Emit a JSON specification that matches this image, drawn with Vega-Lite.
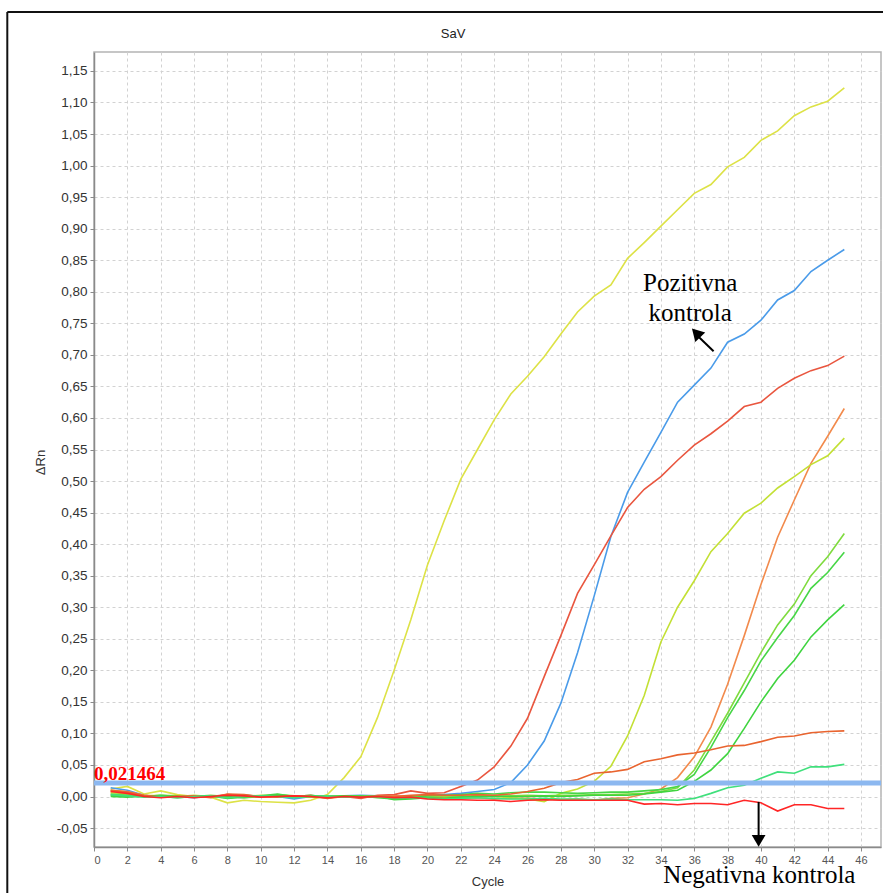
{
"$schema": "https://vega.github.io/schema/vega-lite/v6.json",
"width": 787, "height": 795,
"autosize": {"type": "none"},
"padding": {"left": 94, "top": 52, "right": 2, "bottom": 46},
"background": "white",
"config": {"view": {"stroke": "#b4b4b4", "strokeWidth": 1.5}, "axis": {"labelOverlap": false}},
"resolve": {"axis": {"x": "independent", "y": "independent"}},
"datasets": {"curves": [
{"s":"A","c":1,"v":0.012},{"s":"A","c":2,"v":0.016},{"s":"A","c":3,"v":0.004},{"s":"A","c":4,"v":0.009},{"s":"A","c":5,"v":0.003},{"s":"A","c":6,"v":0.0},{"s":"A","c":7,"v":-0.001},{"s":"A","c":8,"v":-0.01},{"s":"A","c":9,"v":-0.006},{"s":"A","c":10,"v":-0.008},{"s":"A","c":11,"v":-0.009},{"s":"A","c":12,"v":-0.01},{"s":"A","c":13,"v":-0.006},{"s":"A","c":14,"v":0.003},{"s":"A","c":15,"v":0.03},{"s":"A","c":16,"v":0.063},{"s":"A","c":17,"v":0.125},{"s":"A","c":18,"v":0.2},{"s":"A","c":19,"v":0.28},{"s":"A","c":20,"v":0.367},{"s":"A","c":21,"v":0.437},{"s":"A","c":22,"v":0.503},{"s":"A","c":23,"v":0.55},{"s":"A","c":24,"v":0.597},{"s":"A","c":25,"v":0.638},{"s":"A","c":26,"v":0.666},{"s":"A","c":27,"v":0.697},{"s":"A","c":28,"v":0.733},{"s":"A","c":29,"v":0.768},{"s":"A","c":30,"v":0.793},{"s":"A","c":31,"v":0.811},{"s":"A","c":32,"v":0.853},{"s":"A","c":33,"v":0.878},{"s":"A","c":34,"v":0.904},{"s":"A","c":35,"v":0.93},{"s":"A","c":36,"v":0.956},{"s":"A","c":37,"v":0.97},{"s":"A","c":38,"v":0.998},{"s":"A","c":39,"v":1.013},{"s":"A","c":40,"v":1.04},{"s":"A","c":41,"v":1.055},{"s":"A","c":42,"v":1.079},{"s":"A","c":43,"v":1.093},{"s":"A","c":44,"v":1.102},{"s":"A","c":45,"v":1.123},
{"s":"B","c":1,"v":0.014},{"s":"B","c":2,"v":0.01},{"s":"B","c":3,"v":0.002},{"s":"B","c":4,"v":-0.001},{"s":"B","c":5,"v":0.0},{"s":"B","c":6,"v":-0.002},{"s":"B","c":7,"v":0.001},{"s":"B","c":8,"v":0.0},{"s":"B","c":9,"v":-0.002},{"s":"B","c":10,"v":0.001},{"s":"B","c":11,"v":0.0},{"s":"B","c":12,"v":-0.004},{"s":"B","c":13,"v":0.0},{"s":"B","c":14,"v":-0.002},{"s":"B","c":15,"v":0.001},{"s":"B","c":16,"v":0.002},{"s":"B","c":17,"v":0.001},{"s":"B","c":18,"v":0.0},{"s":"B","c":19,"v":-0.001},{"s":"B","c":20,"v":0.002},{"s":"B","c":21,"v":0.003},{"s":"B","c":22,"v":0.005},{"s":"B","c":23,"v":0.008},{"s":"B","c":24,"v":0.011},{"s":"B","c":25,"v":0.022},{"s":"B","c":26,"v":0.05},{"s":"B","c":27,"v":0.088},{"s":"B","c":28,"v":0.148},{"s":"B","c":29,"v":0.228},{"s":"B","c":30,"v":0.318},{"s":"B","c":31,"v":0.412},{"s":"B","c":32,"v":0.482},{"s":"B","c":33,"v":0.53},{"s":"B","c":34,"v":0.577},{"s":"B","c":35,"v":0.625},{"s":"B","c":36,"v":0.652},{"s":"B","c":37,"v":0.679},{"s":"B","c":38,"v":0.72},{"s":"B","c":39,"v":0.733},{"s":"B","c":40,"v":0.755},{"s":"B","c":41,"v":0.787},{"s":"B","c":42,"v":0.802},{"s":"B","c":43,"v":0.832},{"s":"B","c":44,"v":0.85},{"s":"B","c":45,"v":0.867},
{"s":"C","c":1,"v":0.008},{"s":"C","c":2,"v":0.006},{"s":"C","c":3,"v":0.001},{"s":"C","c":4,"v":0.0},{"s":"C","c":5,"v":-0.001},{"s":"C","c":6,"v":0.001},{"s":"C","c":7,"v":0.0},{"s":"C","c":8,"v":0.003},{"s":"C","c":9,"v":0.002},{"s":"C","c":10,"v":0.0},{"s":"C","c":11,"v":0.001},{"s":"C","c":12,"v":0.0},{"s":"C","c":13,"v":0.002},{"s":"C","c":14,"v":-0.002},{"s":"C","c":15,"v":0.0},{"s":"C","c":16,"v":-0.003},{"s":"C","c":17,"v":0.002},{"s":"C","c":18,"v":0.003},{"s":"C","c":19,"v":0.009},{"s":"C","c":20,"v":0.005},{"s":"C","c":21,"v":0.006},{"s":"C","c":22,"v":0.016},{"s":"C","c":23,"v":0.026},{"s":"C","c":24,"v":0.047},{"s":"C","c":25,"v":0.08},{"s":"C","c":26,"v":0.124},{"s":"C","c":27,"v":0.19},{"s":"C","c":28,"v":0.255},{"s":"C","c":29,"v":0.322},{"s":"C","c":30,"v":0.367},{"s":"C","c":31,"v":0.413},{"s":"C","c":32,"v":0.458},{"s":"C","c":33,"v":0.487},{"s":"C","c":34,"v":0.507},{"s":"C","c":35,"v":0.533},{"s":"C","c":36,"v":0.557},{"s":"C","c":37,"v":0.575},{"s":"C","c":38,"v":0.595},{"s":"C","c":39,"v":0.618},{"s":"C","c":40,"v":0.625},{"s":"C","c":41,"v":0.647},{"s":"C","c":42,"v":0.663},{"s":"C","c":43,"v":0.675},{"s":"C","c":44,"v":0.683},{"s":"C","c":45,"v":0.698},
{"s":"D","c":1,"v":0.01},{"s":"D","c":2,"v":0.008},{"s":"D","c":3,"v":0.002},{"s":"D","c":4,"v":0.0},{"s":"D","c":5,"v":0.001},{"s":"D","c":6,"v":-0.001},{"s":"D","c":7,"v":0.0},{"s":"D","c":8,"v":0.002},{"s":"D","c":9,"v":0.001},{"s":"D","c":10,"v":-0.001},{"s":"D","c":11,"v":0.0},{"s":"D","c":12,"v":0.001},{"s":"D","c":13,"v":-0.001},{"s":"D","c":14,"v":0.0},{"s":"D","c":15,"v":0.001},{"s":"D","c":16,"v":-0.001},{"s":"D","c":17,"v":0.0},{"s":"D","c":18,"v":0.001},{"s":"D","c":19,"v":0.0},{"s":"D","c":20,"v":-0.002},{"s":"D","c":21,"v":-0.002},{"s":"D","c":22,"v":-0.003},{"s":"D","c":23,"v":-0.002},{"s":"D","c":24,"v":-0.004},{"s":"D","c":25,"v":-0.003},{"s":"D","c":26,"v":-0.003},{"s":"D","c":27,"v":-0.004},{"s":"D","c":28,"v":-0.005},{"s":"D","c":29,"v":-0.004},{"s":"D","c":30,"v":-0.006},{"s":"D","c":31,"v":-0.003},{"s":"D","c":32,"v":-0.002},{"s":"D","c":33,"v":0.004},{"s":"D","c":34,"v":0.012},{"s":"D","c":35,"v":0.03},{"s":"D","c":36,"v":0.063},{"s":"D","c":37,"v":0.11},{"s":"D","c":38,"v":0.178},{"s":"D","c":39,"v":0.255},{"s":"D","c":40,"v":0.336},{"s":"D","c":41,"v":0.411},{"s":"D","c":42,"v":0.47},{"s":"D","c":43,"v":0.528},{"s":"D","c":44,"v":0.571},{"s":"D","c":45,"v":0.615},
{"s":"E","c":1,"v":0.006},{"s":"E","c":2,"v":0.005},{"s":"E","c":3,"v":0.002},{"s":"E","c":4,"v":0.001},{"s":"E","c":5,"v":0.0},{"s":"E","c":6,"v":0.002},{"s":"E","c":7,"v":0.0},{"s":"E","c":8,"v":-0.002},{"s":"E","c":9,"v":0.0},{"s":"E","c":10,"v":0.002},{"s":"E","c":11,"v":0.001},{"s":"E","c":12,"v":0.0},{"s":"E","c":13,"v":-0.001},{"s":"E","c":14,"v":0.001},{"s":"E","c":15,"v":0.0},{"s":"E","c":16,"v":0.001},{"s":"E","c":17,"v":0.0},{"s":"E","c":18,"v":-0.001},{"s":"E","c":19,"v":0.0},{"s":"E","c":20,"v":0.001},{"s":"E","c":21,"v":0.0},{"s":"E","c":22,"v":-0.001},{"s":"E","c":23,"v":0.001},{"s":"E","c":24,"v":0.0},{"s":"E","c":25,"v":-0.002},{"s":"E","c":26,"v":-0.004},{"s":"E","c":27,"v":-0.008},{"s":"E","c":28,"v":0.005},{"s":"E","c":29,"v":0.012},{"s":"E","c":30,"v":0.024},{"s":"E","c":31,"v":0.048},{"s":"E","c":32,"v":0.096},{"s":"E","c":33,"v":0.16},{"s":"E","c":34,"v":0.245},{"s":"E","c":35,"v":0.3},{"s":"E","c":36,"v":0.342},{"s":"E","c":37,"v":0.388},{"s":"E","c":38,"v":0.417},{"s":"E","c":39,"v":0.449},{"s":"E","c":40,"v":0.465},{"s":"E","c":41,"v":0.489},{"s":"E","c":42,"v":0.507},{"s":"E","c":43,"v":0.526},{"s":"E","c":44,"v":0.54},{"s":"E","c":45,"v":0.568},
{"s":"F","c":1,"v":0.004},{"s":"F","c":2,"v":0.003},{"s":"F","c":3,"v":0.0},{"s":"F","c":4,"v":0.002},{"s":"F","c":5,"v":0.001},{"s":"F","c":6,"v":0.0},{"s":"F","c":7,"v":0.002},{"s":"F","c":8,"v":0.0},{"s":"F","c":9,"v":-0.002},{"s":"F","c":10,"v":0.0},{"s":"F","c":11,"v":0.003},{"s":"F","c":12,"v":0.001},{"s":"F","c":13,"v":0.0},{"s":"F","c":14,"v":0.001},{"s":"F","c":15,"v":0.0},{"s":"F","c":16,"v":-0.001},{"s":"F","c":17,"v":0.001},{"s":"F","c":18,"v":-0.002},{"s":"F","c":19,"v":0.0},{"s":"F","c":20,"v":0.002},{"s":"F","c":21,"v":0.001},{"s":"F","c":22,"v":0.0},{"s":"F","c":23,"v":0.001},{"s":"F","c":24,"v":0.0},{"s":"F","c":25,"v":0.001},{"s":"F","c":26,"v":0.002},{"s":"F","c":27,"v":0.001},{"s":"F","c":28,"v":0.002},{"s":"F","c":29,"v":0.002},{"s":"F","c":30,"v":0.003},{"s":"F","c":31,"v":0.003},{"s":"F","c":32,"v":0.004},{"s":"F","c":33,"v":0.005},{"s":"F","c":34,"v":0.008},{"s":"F","c":35,"v":0.014},{"s":"F","c":36,"v":0.042},{"s":"F","c":37,"v":0.087},{"s":"F","c":38,"v":0.132},{"s":"F","c":39,"v":0.18},{"s":"F","c":40,"v":0.228},{"s":"F","c":41,"v":0.272},{"s":"F","c":42,"v":0.305},{"s":"F","c":43,"v":0.35},{"s":"F","c":44,"v":0.38},{"s":"F","c":45,"v":0.417},
{"s":"G","c":1,"v":0.002},{"s":"G","c":2,"v":0.001},{"s":"G","c":3,"v":0.0},{"s":"G","c":4,"v":0.002},{"s":"G","c":5,"v":0.0},{"s":"G","c":6,"v":-0.001},{"s":"G","c":7,"v":0.001},{"s":"G","c":8,"v":-0.003},{"s":"G","c":9,"v":-0.001},{"s":"G","c":10,"v":0.001},{"s":"G","c":11,"v":0.004},{"s":"G","c":12,"v":0.0},{"s":"G","c":13,"v":0.002},{"s":"G","c":14,"v":-0.001},{"s":"G","c":15,"v":0.0},{"s":"G","c":16,"v":0.001},{"s":"G","c":17,"v":-0.002},{"s":"G","c":18,"v":-0.004},{"s":"G","c":19,"v":-0.002},{"s":"G","c":20,"v":0.001},{"s":"G","c":21,"v":0.002},{"s":"G","c":22,"v":0.003},{"s":"G","c":23,"v":0.005},{"s":"G","c":24,"v":0.004},{"s":"G","c":25,"v":0.006},{"s":"G","c":26,"v":0.007},{"s":"G","c":27,"v":0.007},{"s":"G","c":28,"v":0.006},{"s":"G","c":29,"v":0.005},{"s":"G","c":30,"v":0.006},{"s":"G","c":31,"v":0.007},{"s":"G","c":32,"v":0.007},{"s":"G","c":33,"v":0.009},{"s":"G","c":34,"v":0.011},{"s":"G","c":35,"v":0.016},{"s":"G","c":36,"v":0.035},{"s":"G","c":37,"v":0.078},{"s":"G","c":38,"v":0.125},{"s":"G","c":39,"v":0.168},{"s":"G","c":40,"v":0.215},{"s":"G","c":41,"v":0.252},{"s":"G","c":42,"v":0.287},{"s":"G","c":43,"v":0.33},{"s":"G","c":44,"v":0.355},{"s":"G","c":45,"v":0.387},
{"s":"H","c":1,"v":0.0},{"s":"H","c":2,"v":-0.001},{"s":"H","c":3,"v":0.001},{"s":"H","c":4,"v":0.0},{"s":"H","c":5,"v":-0.002},{"s":"H","c":6,"v":0.0},{"s":"H","c":7,"v":0.001},{"s":"H","c":8,"v":0.0},{"s":"H","c":9,"v":0.002},{"s":"H","c":10,"v":0.0},{"s":"H","c":11,"v":0.002},{"s":"H","c":12,"v":-0.001},{"s":"H","c":13,"v":0.0},{"s":"H","c":14,"v":0.0},{"s":"H","c":15,"v":0.001},{"s":"H","c":16,"v":0.0},{"s":"H","c":17,"v":0.001},{"s":"H","c":18,"v":-0.005},{"s":"H","c":19,"v":-0.004},{"s":"H","c":20,"v":-0.002},{"s":"H","c":21,"v":-0.003},{"s":"H","c":22,"v":-0.001},{"s":"H","c":23,"v":0.0},{"s":"H","c":24,"v":0.001},{"s":"H","c":25,"v":0.0},{"s":"H","c":26,"v":0.0},{"s":"H","c":27,"v":0.001},{"s":"H","c":28,"v":0.0},{"s":"H","c":29,"v":0.001},{"s":"H","c":30,"v":0.002},{"s":"H","c":31,"v":0.002},{"s":"H","c":32,"v":0.002},{"s":"H","c":33,"v":0.004},{"s":"H","c":34,"v":0.007},{"s":"H","c":35,"v":0.01},{"s":"H","c":36,"v":0.024},{"s":"H","c":37,"v":0.042},{"s":"H","c":38,"v":0.068},{"s":"H","c":39,"v":0.108},{"s":"H","c":40,"v":0.15},{"s":"H","c":41,"v":0.187},{"s":"H","c":42,"v":0.216},{"s":"H","c":43,"v":0.253},{"s":"H","c":44,"v":0.28},{"s":"H","c":45,"v":0.304},
{"s":"I","c":1,"v":0.01},{"s":"I","c":2,"v":0.007},{"s":"I","c":3,"v":0.002},{"s":"I","c":4,"v":-0.001},{"s":"I","c":5,"v":0.0},{"s":"I","c":6,"v":0.001},{"s":"I","c":7,"v":-0.002},{"s":"I","c":8,"v":0.004},{"s":"I","c":9,"v":0.003},{"s":"I","c":10,"v":0.0},{"s":"I","c":11,"v":-0.001},{"s":"I","c":12,"v":0.001},{"s":"I","c":13,"v":0.0},{"s":"I","c":14,"v":-0.003},{"s":"I","c":15,"v":0.0},{"s":"I","c":16,"v":-0.001},{"s":"I","c":17,"v":0.001},{"s":"I","c":18,"v":0.0},{"s":"I","c":19,"v":0.002},{"s":"I","c":20,"v":0.003},{"s":"I","c":21,"v":0.002},{"s":"I","c":22,"v":0.002},{"s":"I","c":23,"v":0.003},{"s":"I","c":24,"v":0.002},{"s":"I","c":25,"v":0.004},{"s":"I","c":26,"v":0.008},{"s":"I","c":27,"v":0.013},{"s":"I","c":28,"v":0.022},{"s":"I","c":29,"v":0.027},{"s":"I","c":30,"v":0.037},{"s":"I","c":31,"v":0.039},{"s":"I","c":32,"v":0.043},{"s":"I","c":33,"v":0.055},{"s":"I","c":34,"v":0.06},{"s":"I","c":35,"v":0.066},{"s":"I","c":36,"v":0.069},{"s":"I","c":37,"v":0.074},{"s":"I","c":38,"v":0.08},{"s":"I","c":39,"v":0.081},{"s":"I","c":40,"v":0.087},{"s":"I","c":41,"v":0.094},{"s":"I","c":42,"v":0.096},{"s":"I","c":43,"v":0.101},{"s":"I","c":44,"v":0.103},{"s":"I","c":45,"v":0.104},
{"s":"J","c":1,"v":0.003},{"s":"J","c":2,"v":0.001},{"s":"J","c":3,"v":-0.001},{"s":"J","c":4,"v":0.0},{"s":"J","c":5,"v":-0.002},{"s":"J","c":6,"v":0.0},{"s":"J","c":7,"v":0.001},{"s":"J","c":8,"v":-0.002},{"s":"J","c":9,"v":0.0},{"s":"J","c":10,"v":0.001},{"s":"J","c":11,"v":0.0},{"s":"J","c":12,"v":-0.002},{"s":"J","c":13,"v":0.0},{"s":"J","c":14,"v":0.001},{"s":"J","c":15,"v":-0.001},{"s":"J","c":16,"v":0.0},{"s":"J","c":17,"v":0.0},{"s":"J","c":18,"v":-0.003},{"s":"J","c":19,"v":-0.002},{"s":"J","c":20,"v":-0.003},{"s":"J","c":21,"v":-0.004},{"s":"J","c":22,"v":-0.003},{"s":"J","c":23,"v":-0.002},{"s":"J","c":24,"v":-0.003},{"s":"J","c":25,"v":-0.004},{"s":"J","c":26,"v":-0.004},{"s":"J","c":27,"v":-0.003},{"s":"J","c":28,"v":-0.004},{"s":"J","c":29,"v":-0.004},{"s":"J","c":30,"v":-0.005},{"s":"J","c":31,"v":-0.004},{"s":"J","c":32,"v":-0.005},{"s":"J","c":33,"v":-0.005},{"s":"J","c":34,"v":-0.005},{"s":"J","c":35,"v":-0.006},{"s":"J","c":36,"v":-0.003},{"s":"J","c":37,"v":0.005},{"s":"J","c":38,"v":0.014},{"s":"J","c":39,"v":0.018},{"s":"J","c":40,"v":0.029},{"s":"J","c":41,"v":0.039},{"s":"J","c":42,"v":0.037},{"s":"J","c":43,"v":0.047},{"s":"J","c":44,"v":0.047},{"s":"J","c":45,"v":0.051},
{"s":"K","c":1,"v":0.008},{"s":"K","c":2,"v":0.005},{"s":"K","c":3,"v":0.0},{"s":"K","c":4,"v":-0.002},{"s":"K","c":5,"v":0.0},{"s":"K","c":6,"v":-0.002},{"s":"K","c":7,"v":0.0},{"s":"K","c":8,"v":0.002},{"s":"K","c":9,"v":0.001},{"s":"K","c":10,"v":-0.001},{"s":"K","c":11,"v":0.0},{"s":"K","c":12,"v":0.001},{"s":"K","c":13,"v":0.0},{"s":"K","c":14,"v":-0.002},{"s":"K","c":15,"v":0.0},{"s":"K","c":16,"v":-0.001},{"s":"K","c":17,"v":0.0},{"s":"K","c":18,"v":-0.002},{"s":"K","c":19,"v":-0.001},{"s":"K","c":20,"v":-0.004},{"s":"K","c":21,"v":-0.005},{"s":"K","c":22,"v":-0.005},{"s":"K","c":23,"v":-0.006},{"s":"K","c":24,"v":-0.006},{"s":"K","c":25,"v":-0.008},{"s":"K","c":26,"v":-0.006},{"s":"K","c":27,"v":-0.005},{"s":"K","c":28,"v":-0.006},{"s":"K","c":29,"v":-0.006},{"s":"K","c":30,"v":-0.006},{"s":"K","c":31,"v":-0.006},{"s":"K","c":32,"v":-0.006},{"s":"K","c":33,"v":-0.012},{"s":"K","c":34,"v":-0.011},{"s":"K","c":35,"v":-0.013},{"s":"K","c":36,"v":-0.011},{"s":"K","c":37,"v":-0.011},{"s":"K","c":38,"v":-0.013},{"s":"K","c":39,"v":-0.006},{"s":"K","c":40,"v":-0.01},{"s":"K","c":41,"v":-0.023},{"s":"K","c":42,"v":-0.013},{"s":"K","c":43,"v":-0.013},{"s":"K","c":44,"v":-0.019},{"s":"K","c":45,"v":-0.019}
]},
"layer": [
{
"data": {"name": "curves"},
"mark": {"type": "line", "strokeWidth": 1.6},
"encoding": {
"x": {"field": "c", "type": "quantitative",
"scale": {"domain": [0, 47.2], "nice": false, "zero": false},
"axis": {"title": "Cycle", "values": [0,2,4,6,8,10,12,14,16,18,20,22,24,26,28,30,32,34,36,38,40,42,44,46],
"labelOverlap": false,
"grid": true, "gridColor": "#d2d2d2", "gridDash": [3,3], "gridWidth": 1,
"domainColor": "#8a8a8a", "domainWidth": 1.5, "tickColor": "#8a8a8a", "tickSize": 4,
"labelFont": "Liberation Sans", "labelFontSize": 11, "labelColor": "#555", "labelPadding": 3,
"titleFont": "Liberation Sans", "titleFontSize": 13, "titleFontWeight": "normal", "titleColor": "#333", "titleY": 34, "titleBaseline": "middle"}},
"y": {"field": "v", "type": "quantitative",
"scale": {"domain": [-0.08, 1.18], "nice": false, "zero": false},
"axis": {"title": "ΔRn", "values": [-0.05,0,0.05,0.1,0.15,0.2,0.25,0.3,0.35,0.4,0.45,0.5,0.55,0.6,0.65,0.7,0.75,0.8,0.85,0.9,0.95,1,1.05,1.1,1.15],
"labelOverlap": false,
"labelExpr": "replace(replace(format(datum.value, '.2f'), '.', ','), '\u2212', '-')",
"grid": true, "gridColor": "#d2d2d2", "gridDash": [3,3], "gridWidth": 1,
"domainColor": "#8a8a8a", "domainWidth": 1.5, "tickColor": "#8a8a8a", "tickSize": 4,
"labelFont": "Liberation Sans", "labelFontSize": 13.5, "labelColor": "#333", "labelPadding": 3,
"titleFont": "Liberation Sans", "titleFontSize": 13, "titleFontWeight": "normal", "titleColor": "#333",
"titleX": -54, "titleY": 410, "titleAlign": "center", "titleBaseline": "middle", "titleAngle": -90}},
"color": {"field": "s", "type": "nominal", "legend": null,
"scale": {"domain": ["A","B","C","D","E","F","G","H","I","J","K"],
"range": ["#dde246","#4a9be9","#e9563f","#f28a4c","#c3e035","#7fdb3e","#46d646","#3fd43f","#e9642f","#40e07c","#ff2626"]}}
}
},
{
"data": {"values": [{}]},
"mark": {"type": "rule", "color": "#8cb8f0", "strokeWidth": 5},
"encoding": {"y": {"datum": 0.021464, "axis": null}}
},
{
"data": {"values": [{}]},
"mark": {"type": "text", "text": "0,021464", "font": "Liberation Serif", "fontWeight": "bold", "fontSize": 19, "color": "#ff0000", "align": "left", "baseline": "alphabetic", "dy": -3},
"encoding": {"x": {"datum": 0, "axis": null}, "y": {"datum": 0.021464, "axis": null}}
},
{
"data": {"values": [{}]},
"mark": {"type": "text", "text": "SaV", "font": "Liberation Sans", "fontSize": 13, "color": "#222", "align": "center", "baseline": "middle"},
"encoding": {"x": {"datum": 21.54, "axis": null}, "y": {"datum": 1.2084, "axis": null}}
},
{
"data": {"values": [{}]},
"mark": {"type": "rule", "color": "#111", "strokeWidth": 2},
"encoding": {"x": {"datum": -5.2, "axis": null}, "y": {"datum": 1.2433, "axis": null}, "y2": {"datum": -0.3}}
},
{
"data": {"values": [{}]},
"mark": {"type": "rule", "color": "#111", "strokeWidth": 2},
"encoding": {"y": {"datum": 1.2433, "axis": null}, "x": {"datum": -5.2, "axis": null}, "x2": {"datum": 50}}
},
{
"data": {"values": [{}]},
"mark": {"type": "text", "text": ["Pozitivna", "kontrola"], "lineHeight": 30, "font": "Liberation Serif", "fontSize": 25, "color": "#000", "align": "center", "baseline": "alphabetic"},
"encoding": {"x": {"datum": 35.76, "axis": null}, "y": {"datum": 0.801, "axis": null}}
},
{
"data": {"values": [{}]},
"mark": {"type": "rule", "color": "#000", "strokeWidth": 2},
"encoding": {"x": {"datum": 37.16, "axis": null}, "y": {"datum": 0.7058, "axis": null}, "x2": {"datum": 36.18}, "y2": {"datum": 0.7306}}
},
{
"data": {"values": [{}]},
"mark": {"type": "point", "shape": "triangle-up", "filled": true, "color": "#000", "opacity": 1, "size": 190, "angle": -44},
"encoding": {"x": {"datum": 36.11, "axis": null}, "y": {"datum": 0.7348, "axis": null}}
},
{
"data": {"values": [{}]},
"mark": {"type": "text", "text": "Negativna kontrola", "font": "Liberation Serif", "fontSize": 25, "color": "#000", "align": "center", "baseline": "alphabetic"},
"encoding": {"x": {"datum": 39.9, "axis": null}, "y": {"datum": -0.1365, "axis": null}}
},
{
"data": {"values": [{}]},
"mark": {"type": "rule", "color": "#000", "strokeWidth": 2},
"encoding": {"x": {"datum": 39.86, "axis": null}, "y": {"datum": -0.0086, "axis": null}, "y2": {"datum": -0.0631}}
},
{
"data": {"values": [{}]},
"mark": {"type": "point", "shape": "triangle-down", "filled": true, "color": "#000", "opacity": 1, "size": 190},
"encoding": {"x": {"datum": 39.86, "axis": null}, "y": {"datum": -0.0703, "axis": null}}
}
]
}
